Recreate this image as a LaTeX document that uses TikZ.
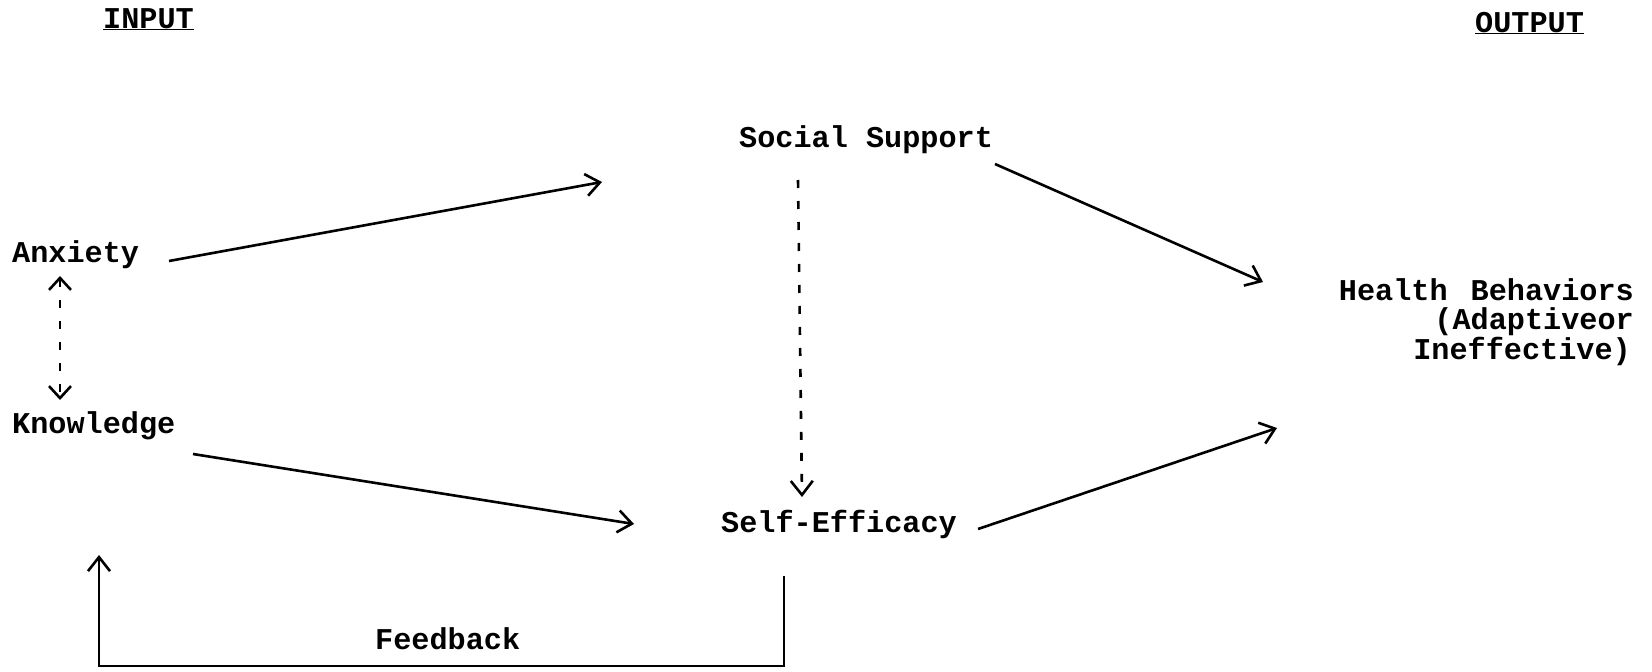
\documentclass[tikz,border=0pt]{standalone}
\usepackage{fontspec}
\setmainfont{Liberation Mono}
\usetikzlibrary{arrows.meta}
\begin{document}
\begin{tikzpicture}[x=1pt,y=-1pt,
  lbl/.style={inner sep=0pt, font=\fontsize{30.2}{29.5}\selectfont\bfseries},
  tip/.style={-{Straight Barb[length=14pt,width=22pt,line width=2.6pt]}},
  conn/.style={line width=2.6pt, tip},
  dconn/.style={conn, dash pattern=on 8pt off 13pt},
  fbline/.style={line width=2.6pt, tip}]
\useasboundingbox (0,0) rectangle (1652,672);

% labels
\node[lbl, anchor=base west] (in)  at (103,28)  {\underline{INPUT}};
\node[lbl, anchor=base west] (out) at (1475,32) {\underline{OUTPUT}};
\node[lbl, anchor=base west] (anx) at (12,262)  {Anxiety};
\node[lbl, anchor=base west] (kno) at (12,433)  {Knowledge};
\node[lbl, anchor=base west] (ss)  at (739,147) {Social Support};
\node[lbl, anchor=base west] (se)  at (721,532) {Self-Efficacy};
\node[lbl, anchor=base west] (fbl) at (375,649) {Feedback};
\node[lbl, anchor=north east, align=right] (hb) at (1634,278)
  {Health\hspace*{23pt}Behaviors\\(Adaptiveor\\Ineffective)\hspace*{3pt}};

% free ends
\coordinate (ssin)  at (602,182);
\coordinate (sein)  at (634,524);
\coordinate (hbin1) at (1263,282);
\coordinate (hbin2) at (1277,428);

% connectors
\draw[conn] ([shift={(157,-1)}]anx.base west) -- (ssin);
\draw[conn] ([shift={(181,21)}]kno.base west) -- (sein);
\draw[conn] ([shift={(256,17)}]ss.base west) -- (hbin1);
\draw[conn] ([shift={(257,-3)}]se.base west) -- (hbin2);
\draw[dconn, {Straight Barb[length=12pt,width=22pt,line width=2.6pt]}-{Straight Barb[length=12pt,width=22pt,line width=2.6pt]}]
  ([shift={(48,14)}]anx.base west) -- ([shift={(48,-33)}]kno.base west);
\draw[dconn] ([shift={(59,33)}]ss.base west) -- ([shift={(81,-35)}]se.base west);
\draw[fbline] ([shift={(63,44)}]se.base west) -- ++(0,90) -| ([shift={(87,122)}]kno.base west);
\end{tikzpicture}
\end{document}
